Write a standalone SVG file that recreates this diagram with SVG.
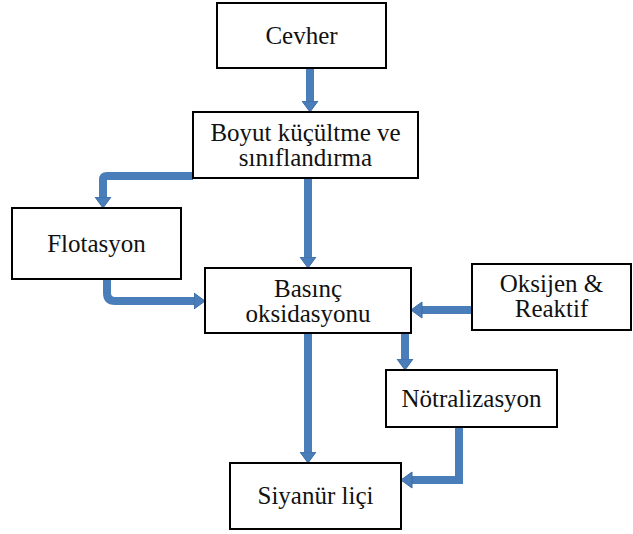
<svg xmlns="http://www.w3.org/2000/svg" width="633" height="534" viewBox="0 0 633 534">
  <style>
    .box { fill: #ffffff; stroke: #000000; stroke-width: 2; }
    .label { font-family: 'Liberation Serif', 'Times New Roman', Tinos, 'DejaVu Serif', serif; font-size: 25px; fill: #111111; text-anchor: middle; }
    .flow { fill: none; stroke: #4A7EBB; stroke-width: 8; stroke-linejoin: miter; marker-end: url(#head); }
  </style>
  <defs>
    <marker id="head" markerUnits="userSpaceOnUse" markerWidth="13" markerHeight="18" viewBox="0 -9 12 18" refX="0" refY="0" orient="auto">
      <path d="M0,-8 L11,0 L0,8 Z" fill="#4A7EBB" stroke="#3D6BA3" stroke-width="1"/>
    </marker>
  </defs>
  <rect width="633" height="534" fill="#ffffff"/>

  <!-- connectors -->
  <g id="connectors">
    <path class="flow" d="M310,69 L310,101"/>
    <path class="flow" d="M193,176 L107,176 Q103,176 103,180 L103,197"/>
    <path class="flow" d="M308,179 L308,257"/>
    <path class="flow" d="M107,280 L107,293 Q107,301 115,301 L194,301"/>
    <path class="flow" d="M471,310 L422,310"/>
    <path class="flow" d="M405,334 L405,359"/>
    <path class="flow" d="M308,334 L308,452"/>
    <path class="flow" d="M459,428 L459,480 L412,480"/>
  </g>

  <!-- process steps -->
  <g id="cevher">
    <rect class="box" x="217" y="3" width="169" height="65"/>
    <text class="label" x="301.5" y="44" font-family="Liberation Serif, serif">Cevher</text>
  </g>
  <g id="boyut-kucultme">
    <rect class="box" x="193" y="112" width="225" height="66"/>
    <text class="label" x="305.5" y="141">Boyut küçültme ve</text>
    <text class="label" x="305.5" y="166">sınıflandırma</text>
  </g>
  <g id="flotasyon">
    <rect class="box" x="12" y="208" width="169" height="71"/>
    <text class="label" x="96.5" y="252">Flotasyon</text>
  </g>
  <g id="basinc-oksidasyonu">
    <rect class="box" x="205" y="268" width="206" height="65"/>
    <text class="label" x="308" y="297">Basınç</text>
    <text class="label" x="308" y="322">oksidasyonu</text>
  </g>
  <g id="oksijen-reaktif">
    <rect class="box" x="472" y="264" width="159" height="66"/>
    <text class="label" x="551.5" y="292">Oksijen &amp;</text>
    <text class="label" x="551.5" y="317">Reaktif</text>
  </g>
  <g id="notralizasyon">
    <rect class="box" x="386" y="370" width="171" height="57"/>
    <text class="label" x="471.5" y="407">Nötralizasyon</text>
  </g>
  <g id="siyanur-lici">
    <rect class="box" x="230" y="463" width="171" height="66"/>
    <text class="label" x="315.5" y="504">Siyanür liçi</text>
  </g>
</svg>
